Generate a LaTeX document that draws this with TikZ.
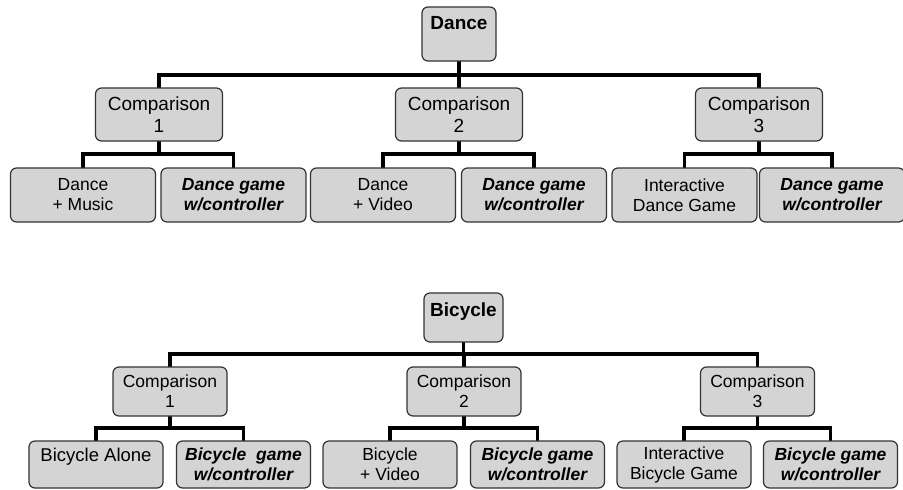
\documentclass[tikz,border=0pt]{standalone}
\usepackage{fontspec}
\setmainfont{Liberation Sans}
\usetikzlibrary{backgrounds}
\begin{document}
\begin{tikzpicture}[x=1pt,y=-1pt,
  box/.style={draw=black!80, line width=1.2pt, fill=black!17, rounded corners=6pt,
    align=center, inner sep=0pt, font=\fontsize{17.5}{20}\selectfont},
  rootA/.style={box, minimum width=74pt, minimum height=54pt, font=\fontsize{19}{22}\selectfont\bfseries},
  rootB/.style={box, minimum width=79pt, minimum height=49pt, font=\fontsize{19}{16}\selectfont\bfseries},
  compA/.style={box, minimum width=127pt, minimum height=53pt, font=\fontsize{19}{22}\selectfont},
  compB/.style={box, minimum width=114pt, minimum height=49pt, font=\fontsize{17.5}{20}\selectfont},
  leafA/.style={box, minimum width=145pt, minimum height=54pt},
  leafB/.style={box, minimum width=134pt, minimum height=47pt},
  game/.style={font=\fontsize{17.5}{20}\selectfont\bfseries\itshape},
  conn/.style={draw=black, line width=3.8pt, line cap=rect}
]
\useasboundingbox (0,0) rectangle (903,490);

% ---------------- Dance tree ----------------
\node[rootA] (ra) at (459,34) {Dance\\\mbox{}};
\coordinate (tbar) at (459,75);
\node[compA] (c1) at (159,114.5) {Comparison\\1};
\node[compA] (c2) at (459,114.5) {Comparison\\2};
\node[compA] (c3) at (759,114.5) {Comparison\\3};
\node[leafA] (l1) at (83,195) {Dance\\+ Music};
\node[leafA,game] (l2) at (233.5,195) {Dance game\\w/controller};
\node[leafA] (l3) at (383,195) {Dance\\+ Video};
\node[leafA,game] (l4) at (534,195) {Dance game\\w/controller};
\node[leafA] (l5) at (684.5,195) {Interactive\\Dance Game};
\node[leafA,game] (l6) at (832,195) {Dance game\\w/controller};
\coordinate (b1) at (159,154);
\coordinate (b2) at (459,154);
\coordinate (b3) at (759,154);

% ---------------- Bicycle tree ----------------
\node[rootB] (rb) at (463.5,317.5) {Bicycle\\\mbox{}};
\coordinate (bbar) at (463.5,354);
\node[compB] (d1) at (170,391.5) {Comparison\\1};
\node[compB] (d2) at (464,391.5) {Comparison\\2};
\node[compB] (d3) at (757.5,391.5) {Comparison\\3};
\node[leafB] (m1) at (96,464.5) {\fontsize{18.5}{20}\selectfont Bicycle Alone\\\mbox{}};
\node[leafB,game] (m2) at (243.5,464.5) {Bicycle\ \ game\\w/controller};
\node[leafB] (m3) at (390,464.5) {Bicycle\\+ Video};
\node[leafB,game] (m4) at (537.5,464.5) {Bicycle game\\w/controller};
\node[leafB] (m5) at (684,464.5) {Interactive\\Bicycle Game};
\node[leafB,game] (m6) at (830.5,464.5) {Bicycle game\\w/controller};
\coordinate (e1) at (170,428);
\coordinate (e2) at (464,428);
\coordinate (e3) at (757.5,428);

\begin{scope}[on background layer]
% Dance connectors
\draw[conn] (ra.south) -- (tbar);
\draw[conn] (c1.north) -- (c1.north |- tbar) -- (c3.north |- tbar) -- (c3.north);
\draw[conn] (c2.north) -- (c2.north |- tbar);
\draw[conn] (l1.north) -- (l1.north |- b1) -- (l2.north |- b1) -- (l2.north);
\draw[conn] (c1.south) -- (b1);
\draw[conn] (l3.north) -- (l3.north |- b2) -- (l4.north |- b2) -- (l4.north);
\draw[conn] (c2.south) -- (b2);
\draw[conn] (l5.north) -- (l5.north |- b3) -- (l6.north |- b3) -- (l6.north);
\draw[conn] (c3.south) -- (b3);
% Bicycle connectors
\draw[conn] (rb.south) -- (bbar);
\draw[conn] (d1.north) -- (d1.north |- bbar) -- (d3.north |- bbar) -- (d3.north);
\draw[conn] (d2.north) -- (d2.north |- bbar);
\draw[conn] (m1.north) -- (m1.north |- e1) -- (m2.north |- e1) -- (m2.north);
\draw[conn] (d1.south) -- (e1);
\draw[conn] (m3.north) -- (m3.north |- e2) -- (m4.north |- e2) -- (m4.north);
\draw[conn] (d2.south) -- (e2);
\draw[conn] (m5.north) -- (m5.north |- e3) -- (m6.north |- e3) -- (m6.north);
\draw[conn] (d3.south) -- (e3);
\end{scope}
\end{tikzpicture}
\end{document}
